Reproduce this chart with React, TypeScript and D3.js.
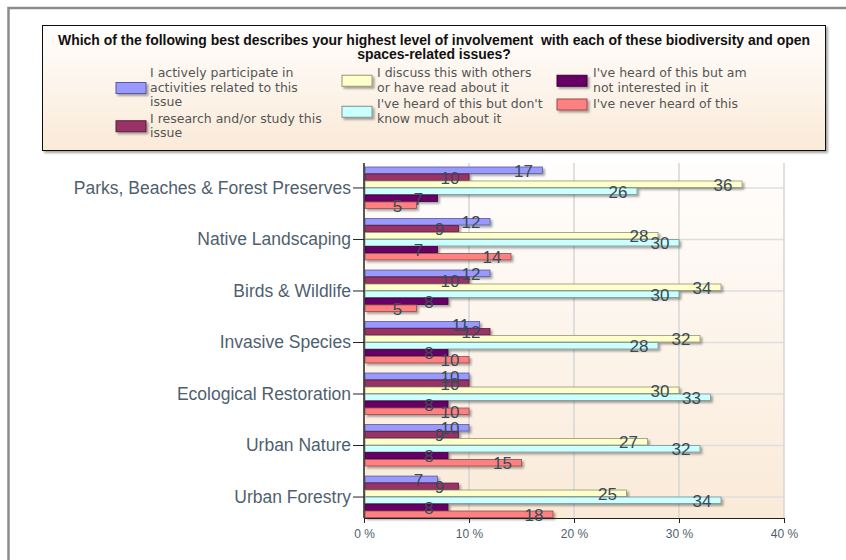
import { useRef, useEffect } from 'react'
import * as d3 from 'd3'

const categories = [
  'Parks, Beaches & Forest Preserves',
  'Native Landscaping',
  'Birds & Wildlife',
  'Invasive Species',
  'Ecological Restoration',
  'Urban Nature',
  'Urban Forestry',
]

const participate = [17, 12, 12, 11, 10, 10, 7]
const research = [10, 9, 10, 12, 10, 9, 9]
const discuss = [36, 28, 34, 32, 30, 27, 25]
const heardDontKnow = [26, 30, 30, 28, 33, 32, 34]
const notInterested = [7, 7, 8, 8, 8, 8, 8]
const neverHeard = [5, 14, 5, 10, 10, 15, 18]

const seriesKeys = ['participate', 'research', 'discuss', 'heardDontKnow', 'notInterested', 'neverHeard']
const seriesValues = [participate, research, discuss, heardDontKnow, notInterested, neverHeard]
const seriesColors = ['#9999ff', '#993366', '#ffffcc', '#ccffff', '#660066', '#ff8080']
const legendLines = [
  ['I actively participate in', 'activities related to this', 'issue'],
  ['I research and/or study this', 'issue'],
  ['I discuss this with others', 'or have read about it'],
  ["I've heard of this but don't", 'know much about it'],
  ["I've heard of this but am", 'not interested in it'],
  ["I've never heard of this"],
]

const titleLines = [
  'Which of the following best describes your highest level of involvement  with each of these biodiversity and open',
  'spaces-related issues?',
]

const xTicks = [0, 10, 20, 30, 40]

export default function App() {
  const svgRef = useRef<SVGSVGElement>(null)

  useEffect(() => {
    if (!svgRef.current) return
    const svg = d3.select(svgRef.current)
    svg.selectAll('*').remove()

    const W = 846
    const H = 560
    svg.attr('width', W).attr('height', H)

    const defs = svg.append('defs')
    const bgGrad = defs.append('linearGradient').attr('id', 'bg-grad')
      .attr('x1', '0%').attr('y1', '0%').attr('x2', '0%').attr('y2', '100%')
    bgGrad.append('stop').attr('offset', '0%').attr('stop-color', '#fffefd')
    bgGrad.append('stop').attr('offset', '100%').attr('stop-color', '#faead8')

    const shadow = defs.append('filter').attr('id', 'shadow')
      .attr('x', '-10%').attr('y', '-30%').attr('width', '130%').attr('height', '200%')
    shadow.append('feDropShadow').attr('dx', 2).attr('dy', 2).attr('stdDeviation', 1)
      .attr('flood-color', '#000').attr('flood-opacity', 0.35)

    // outer frame
    svg.append('rect')
      .attr('x', 8.5).attr('y', 8).attr('width', 900).attr('height', 600)
      .attr('fill', 'none').attr('stroke', '#8c8c8c').attr('stroke-width', 2.5)

    // legend box
    const lg = svg.append('g')
    lg.append('rect')
      .attr('x', 42.5).attr('y', 25.5).attr('width', 783).attr('height', 125)
      .attr('fill', 'url(#bg-grad)').attr('stroke', '#111').attr('stroke-width', 1)
      .attr('filter', 'url(#shadow)')

    // title: squeeze both lines by the same ratio so line 1 spans the box
    const titleTexts = titleLines.map((t, i) =>
      lg.append('text')
        .attr('x', 434).attr('y', 45 + i * 13.5)
        .attr('text-anchor', 'middle')
        .attr('font-family', "'Liberation Sans', Arial, sans-serif")
        .attr('font-weight', 'bold')
        .attr('font-size', '14px')
        .attr('fill', '#111')
        .style('white-space', 'pre')
        .text(t),
    )
    const natural0 = (titleTexts[0].node() as SVGTextElement).getComputedTextLength()
    const ratio = natural0 > 0 ? 752 / natural0 : 1
    titleTexts.forEach((tt) => {
      const n = (tt.node() as SVGTextElement).getComputedTextLength()
      tt.attr('textLength', n * ratio).attr('lengthAdjust', 'spacingAndGlyphs')
    })

    const colSwatchX = [116, 342, 557]
    const colTextX = [150, 377, 593]
    const lineH = 14.5
    const colY = [73, 73, 73]
    legendLines.forEach((lines, i) => {
      const col = Math.floor(i / 2)
      const y0 = colY[col]
      const mid = y0 + ((lines.length - 1) * lineH) / 2
      lg.append('rect')
        .attr('x', colSwatchX[col]).attr('y', mid - 5)
        .attr('width', 30).attr('height', 11)
        .attr('fill', seriesColors[i])
        .attr('stroke', d3.color(seriesColors[i])!.darker(1.5).formatHex())
        .attr('stroke-width', 1)
        .attr('filter', 'url(#shadow)')
      lines.forEach((ln, j) => {
        lg.append('text')
          .attr('x', colTextX[col]).attr('y', y0 + j * lineH)
          .attr('dy', '0.35em')
          .attr('font-family', "'DejaVu Sans', Verdana, sans-serif")
          .attr('font-size', '12.5px')
          .attr('fill', '#555')
          .text(ln)
      })
      colY[col] = y0 + lines.length * lineH + 2
    })

    // plot
    const plotLeft = 364
    const plotRight = 784
    const plotTop = 163
    const plotBottom = 518

    const x = d3.scaleLinear().domain([0, 40]).range([plotLeft, plotRight])
    const y = d3.scaleBand().domain(categories).range([167, plotBottom]).paddingInner(0.186).paddingOuter(0)
    const ys = d3.scaleBand().domain(seriesKeys).range([0, y.bandwidth()])

    svg.append('rect')
      .attr('x', plotLeft).attr('y', plotTop)
      .attr('width', plotRight - plotLeft).attr('height', plotBottom - plotTop)
      .attr('fill', 'url(#bg-grad)')

    // grid
    svg.append('g').selectAll('line.h').data(categories).join('line')
      .attr('x1', plotLeft).attr('x2', plotRight)
      .attr('y1', (d) => y(d)! + y.bandwidth() / 2).attr('y2', (d) => y(d)! + y.bandwidth() / 2)
      .attr('stroke', '#dedede').attr('stroke-width', 1.5)
    svg.append('g').selectAll('line.v').data(xTicks.slice(1)).join('line')
      .attr('x1', (d) => x(d)).attr('x2', (d) => x(d))
      .attr('y1', plotTop).attr('y2', plotBottom)
      .attr('stroke', '#d6d6d6').attr('stroke-width', 1.5)

    // bars
    const bars = svg.append('g')
    seriesValues.forEach((vals, si) => {
      const color = seriesColors[si]
      bars.append('g').selectAll('rect').data(vals).join('rect')
        .attr('x', plotLeft + 1)
        .attr('y', (_, i) => y(categories[i])! + ys(seriesKeys[si])!)
        .attr('width', (d) => x(d) - plotLeft - 1)
        .attr('height', ys.bandwidth() - 0.5)
        .attr('fill', color)
        .attr('stroke', d3.color(color)!.darker(1.5).formatHex())
        .attr('stroke-width', 0.8)
        .attr('filter', 'url(#shadow)')
    })

    // axes
    const xAxis = svg.append('g')
      .attr('transform', `translate(0,${plotBottom})`)
      .call(d3.axisBottom(x).tickValues(xTicks).tickFormat((d) => `${d} %`).tickSizeOuter(0).tickSize(5).tickPadding(6))
    xAxis.select('.domain').attr('stroke', '#222')
    xAxis.selectAll('.tick line').attr('stroke', '#222')
    xAxis.selectAll('.tick text')
      .attr('fill', '#4f5f6f')
      .attr('font-family', "'Liberation Sans', Arial, sans-serif")
      .attr('font-size', '12px')

    const yAxis = svg.append('g')
      .attr('transform', `translate(${plotLeft},0)`)
      .call(d3.axisLeft(y).tickSize(11).tickPadding(2))
    yAxis.select('.domain').remove()
    yAxis.selectAll('.tick line').attr('stroke', '#222')
    yAxis.selectAll('.tick text')
      .attr('fill', '#4f5f6f')
      .attr('font-family', "'Liberation Sans', Arial, sans-serif")
      .attr('font-size', '17.5px')
    svg.append('line')
      .attr('x1', plotLeft).attr('x2', plotLeft)
      .attr('y1', plotTop).attr('y2', plotBottom)
      .attr('stroke', '#222').attr('stroke-width', 1.5)

    // value labels
    const labels = svg.append('g')
    seriesValues.forEach((vals, si) => {
      labels.append('g').selectAll('text').data(vals).join('text')
        .attr('x', (d) => x(d) - 19)
        .attr('y', (_, i) => y(categories[i])! + ys(seriesKeys[si])! + ys.bandwidth() / 2)
        .attr('dy', '0.36em')
        .attr('text-anchor', 'middle')
        .attr('font-family', "'Liberation Sans', Arial, sans-serif")
        .attr('font-size', '17px')
        .attr('fill', '#3a4a56')
        .text((d) => d)
    })
  }, [])

  return (
    <div style={{ position: 'absolute', left: 0, top: 0 }}>
      <svg ref={svgRef} style={{ display: 'block' }} />
    </div>
  )
}
